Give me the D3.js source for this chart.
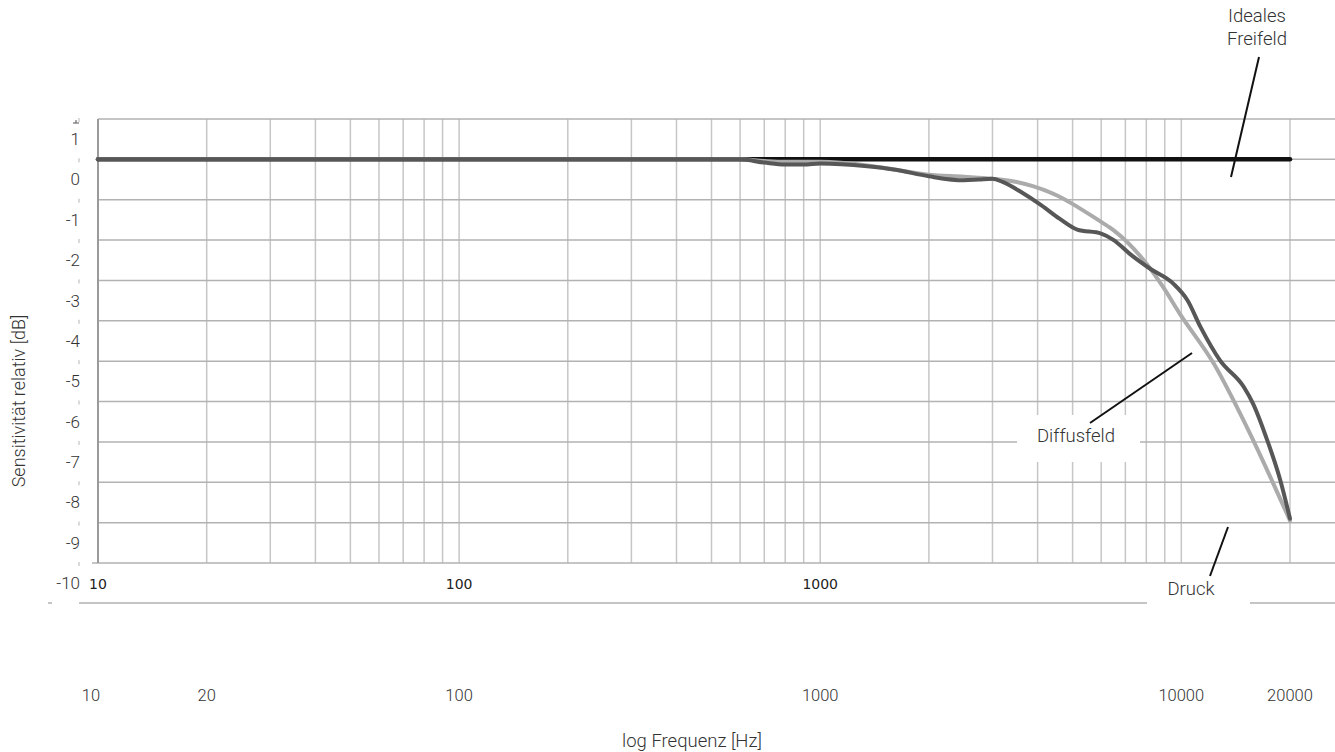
<!DOCTYPE html>
<html>
<head>
<meta charset="utf-8">
<script src="https://cdn.jsdelivr.net/npm/d3@7"></script>
<style>
  html, body { margin: 0; padding: 0; background: #fff; }
  svg { display: block; }
</style>
</head>
<body>
<svg id="chart" width="1335" height="752"></svg>
<script>
// ---------- data ----------
const yTickValues = [1, 0, -1, -2, -3, -4, -5, -6, -7, -8, -9, -10];
const upperXLabels = [10, 100, 1000];
const lowerXLabels = [10, 20, 100, 1000, 10000, 20000];
const gridDecades = [10, 100, 1000];
const gridMultipliers = [1, 2, 3, 4, 5, 6, 7, 8, 9];
const gridExtra = [10000, 20000];

const idealFreq = [10, 20000];
const idealVal  = [0, 0];

const diffusFreq = [10, 100, 600, 700, 800, 1000, 1350, 1600, 2000, 2500, 3000, 3500, 3900, 4800, 5250, 6000, 6500, 8000, 8900, 9900, 12300, 15200, 20000];
const diffusVal  = [0, 0, 0, -0.04, -0.06, -0.06, -0.15, -0.25, -0.38, -0.43, -0.48, -0.56, -0.67, -1.01, -1.22, -1.55, -1.76, -2.58, -3.16, -3.82, -5.06, -6.64, -8.95];

const druckFreq = [10, 100, 600, 700, 800, 900, 1000, 1350, 1600, 2000, 2500, 2750, 3000, 3200, 3600, 4100, 4600, 5150, 6000, 6500, 7200, 8200, 9500, 10400, 11300, 12800, 14900, 15800, 17300, 18800, 20000];
const druckVal  = [0, 0, 0, -0.08, -0.13, -0.13, -0.1, -0.17, -0.25, -0.42, -0.52, -0.5, -0.48, -0.56, -0.81, -1.14, -1.47, -1.74, -1.84, -2.0, -2.34, -2.71, -3.08, -3.49, -4.15, -4.98, -5.64, -6.05, -6.96, -7.95, -8.9];

// ---------- setup ----------
const svg = d3.select("#chart");
const x = d3.scaleLog().domain([10, 20000]).range([98, 1290]);
const y = d3.scaleLinear().domain([-10, 1]).range([563, 119]);
const rightEdge = 1335;
const fontLight = "Roboto, 'Liberation Sans', Arial, sans-serif";

const gridFreqs = [];
gridDecades.forEach(d => gridMultipliers.forEach(m => gridFreqs.push(d * m)));
gridExtra.forEach(f => gridFreqs.push(f));

// vertical grid
svg.append("g").selectAll("line").data(gridFreqs).join("line")
  .attr("x1", d => x(d)).attr("x2", d => x(d))
  .attr("y1", y(1)).attr("y2", y(-10))
  .attr("stroke", "#c6c6c6").attr("stroke-width", 1.5);

// horizontal grid
svg.append("g").selectAll("line").data(yTickValues).join("line")
  .attr("x1", d => d === -10 ? 92 : x(10)).attr("x2", rightEdge)
  .attr("y1", d => y(d)).attr("y2", d => y(d))
  .attr("stroke", "#b2b2b2").attr("stroke-width", 1.5);

// left axis line
svg.append("line")
  .attr("x1", x(10)).attr("x2", x(10))
  .attr("y1", y(1)).attr("y2", y(-10))
  .attr("stroke", "#9a9a9a").attr("stroke-width", 2);

// small tick marks left of the axis
svg.append("g").selectAll("line").data(yTickValues).join("line")
  .attr("x1", 79).attr("x2", 79)
  .attr("y1", d => y(d) - 1).attr("y2", d => y(d) + 3)
  .attr("stroke", "#b5b5b5").attr("stroke-width", 1);
svg.append("line").attr("x1", 73).attr("x2", 79).attr("y1", y(1) + 4).attr("y2", y(1) + 4)
  .attr("stroke", "#555").attr("stroke-width", 1);
svg.append("line").attr("x1", 76).attr("x2", 76).attr("y1", y(1) + 1).attr("y2", y(1) + 4)
  .attr("stroke", "#555").attr("stroke-width", 1);

// y labels (offset below their grid lines)
svg.append("g").selectAll("text").data(yTickValues).join("text")
  .attr("x", 80).attr("y", d => y(d) + 20)
  .attr("dy", "0.36em")
  .attr("text-anchor", "end")
  .attr("font-family", fontLight).attr("font-weight", 300)
  .attr("font-size", 17).attr("fill", "#333")
  .text(d => d);

// second baseline line with small dash
svg.append("line").attr("x1", 79).attr("x2", rightEdge).attr("y1", 603).attr("y2", 603)
  .attr("stroke", "#b2b2b2").attr("stroke-width", 1.5);
svg.append("line").attr("x1", 48).attr("x2", 52).attr("y1", 603).attr("y2", 603)
  .attr("stroke", "#b2b2b2").attr("stroke-width", 1.5);

// upper x labels
svg.append("g").selectAll("text").data(upperXLabels).join("text")
  .attr("x", d => x(d)).attr("y", 584).attr("dy", "0.36em")
  .attr("text-anchor", "middle")
  .attr("font-family", "'DejaVu Sans', sans-serif").attr("font-size", 14)
  .attr("fill", "#222")
  .text(d => d);

// lower x labels
svg.append("g").selectAll("text").data(lowerXLabels).join("text")
  .attr("x", (d, i) => x(d) + (i === 0 ? -7 : 0)).attr("y", 695).attr("dy", "0.36em")
  .attr("text-anchor", "middle")
  .attr("font-family", fontLight).attr("font-weight", 300)
  .attr("font-size", 16.5).attr("fill", "#333")
  .text(d => d);

// axis titles
svg.append("text")
  .attr("transform", "translate(25,401) rotate(-90)")
  .attr("text-anchor", "middle")
  .attr("font-family", fontLight).attr("font-weight", 300)
  .attr("font-size", 18).attr("fill", "#333")
  .text("Sensitivität relativ [dB]");
svg.append("text")
  .attr("x", 692).attr("y", 740).attr("dy", "0.36em")
  .attr("text-anchor", "middle")
  .attr("font-family", fontLight).attr("font-weight", 300)
  .attr("font-size", 18.5).attr("fill", "#333")
  .text("log Frequenz [Hz]");

// white label boxes
svg.append("rect").attr("x", 1017).attr("y", 415).attr("width", 123).attr("height", 47).attr("fill", "#fff");
svg.append("rect").attr("x", 1147).attr("y", 570).attr("width", 103).attr("height", 40).attr("fill", "#fff");

// curves
const line = d3.line().x(d => x(d[0])).y(d => y(d[1])).curve(d3.curveMonotoneX);
const zip = (a, b) => a.map((f, i) => [f, b[i]]);

svg.append("path").datum(zip(idealFreq, idealVal)).attr("d", line)
  .attr("fill", "none").attr("stroke", "#111").attr("stroke-width", 4.5).attr("stroke-linecap", "round");
svg.append("path").datum(zip(diffusFreq, diffusVal)).attr("d", line)
  .attr("fill", "none").attr("stroke", "#ababab").attr("stroke-width", 4).attr("stroke-linecap", "round");
svg.append("path").datum(zip(druckFreq, druckVal)).attr("d", line)
  .attr("fill", "none").attr("stroke", "#575757").attr("stroke-width", 4).attr("stroke-linecap", "round");

// annotations
const ann = svg.append("g").attr("font-family", fontLight).attr("font-weight", 300)
  .attr("font-size", 18.5).attr("fill", "#333").attr("text-anchor", "middle");
ann.append("text").attr("x", 1257).attr("y", 15).attr("dy", "0.36em").text("Ideales");
ann.append("text").attr("x", 1257).attr("y", 38).attr("dy", "0.36em").text("Freifeld");
ann.append("text").attr("x", 1076).attr("y", 435).attr("dy", "0.36em").text("Diffusfeld");
ann.append("text").attr("x", 1191).attr("y", 588).attr("dy", "0.36em").text("Druck");

const leaders = [
  [1259, 57, 1231, 177],
  [1090, 423, 1192, 353],
  [1210, 576, 1228, 527]
];
svg.append("g").selectAll("line").data(leaders).join("line")
  .attr("x1", d => d[0]).attr("y1", d => d[1]).attr("x2", d => d[2]).attr("y2", d => d[3])
  .attr("stroke", "#111").attr("stroke-width", 2);
</script>
</body>
</html>
